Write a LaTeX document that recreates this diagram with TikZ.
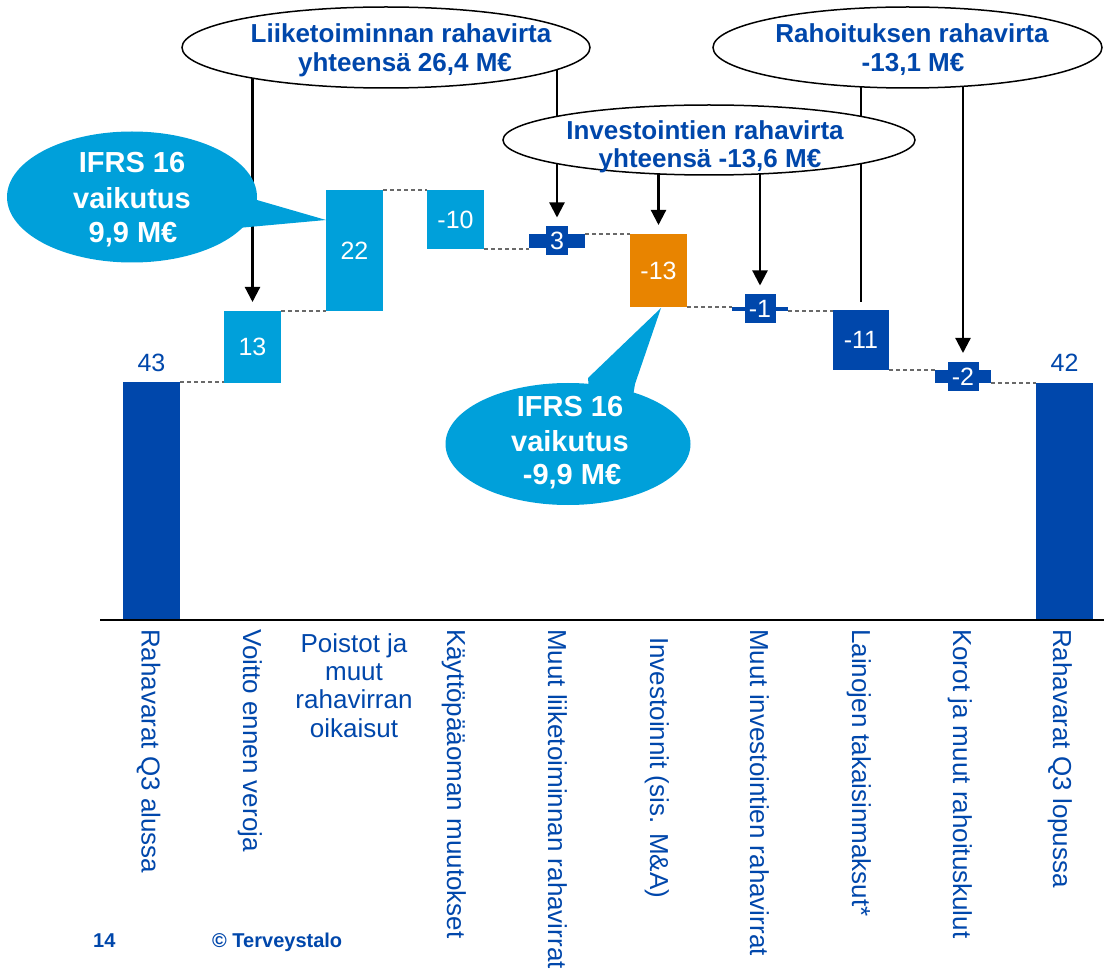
\documentclass[tikz,border=0pt]{standalone}
\usepackage{fontspec}
\setmainfont{Liberation Sans}
\usetikzlibrary{arrows.meta,shapes.geometric}
\definecolor{tdark}{RGB}{0,71,171}
\definecolor{tlight}{RGB}{0,160,218}
\definecolor{torange}{RGB}{232,132,0}
\definecolor{tgrey}{RGB}{105,105,105}
\begin{document}
\begin{tikzpicture}[x=1pt,y=-1pt,
  barbox/.style={draw=none, inner sep=0pt, outer sep=0pt, anchor=north west, minimum width=57pt, text=white, font=\fontsize{25}{28}\selectfont},
  valbox/.style={fill=tdark, inner sep=0pt, outer sep=0pt, minimum height=29pt, text=white, font=\fontsize{25}{28}\selectfont},
  endval/.style={text=tdark, inner sep=0pt, font=\fontsize{25}{28}\selectfont},
  guide/.style={draw=tgrey, dashed, dash pattern=on 4pt off 3pt, line width=1.2pt},
  arr/.style={draw=black, line width=2.2pt, -{Triangle[length=15pt,width=15pt]}},
  plainline/.style={draw=black, line width=2.2pt},
  cloud/.style={ellipse, draw=black, line width=1.5pt, fill=white, inner sep=0pt},
  cloudtext/.style={anchor=base, text=tdark, inner sep=0pt, font=\bfseries\fontsize{26}{29}\selectfont},
  calltext/.style={anchor=base, text=white, inner sep=0pt, font=\bfseries\fontsize{29}{35}\selectfont},
  axislabel/.style={rotate=-90, anchor=base west, text=tdark, inner sep=0pt, font=\fontsize{26}{28.3}\selectfont},
  foot/.style={anchor=base west, text=tdark, inner sep=0pt, font=\bfseries\fontsize{20}{22}\selectfont}
]
\useasboundingbox (0,0) rectangle (1104,976);
\fill[white] (0,0) rectangle (1104,976);

% bars
\node[barbox, fill=tdark, minimum height=238pt] (b1) at (123,382) {};
\node[barbox, fill=tlight, minimum height=72pt] (b2) at (224,311) {13};
\node[barbox, fill=tlight, minimum height=121pt] (b3) at (326,190) {22};
\node[barbox, fill=tlight, minimum height=59pt] (b4) at (427,190) {-10};
\node[barbox, fill=tdark, minimum width=56pt, minimum height=14pt] (b5) at (529,234) {};
\node[barbox, fill=torange, minimum height=73pt] (b6) at (630,234) {-13};
\node[barbox, fill=tdark, minimum width=56pt, minimum height=4pt] (b7) at (732,307) {};
\node[barbox, fill=tdark, minimum width=56pt, minimum height=60pt] (b8) at (833,310) {-11};
\node[barbox, fill=tdark, minimum width=56pt, minimum height=13pt] (b9) at (935,370) {};
\node[barbox, fill=tdark, minimum height=237pt] (b10) at (1036,383) {};

\node[valbox, minimum width=22pt] (l5) at (b5.center) {3};
\node[valbox, minimum width=31pt] (l7) at (b7.center) {-1};
\node[valbox, minimum width=31pt] (l9) at (b9.center) {-2};

\node[endval] (v1) at (151.5,362.5) {43};
\node[endval] (v10) at (1064.5,362.5) {42};

% dashed guides
\draw[guide] (b1.north east) -- (b1.north east -| b2.west);
\draw[guide] (b2.north east) -- (b2.north east -| b3.west);
\draw[guide] (b3.north east) -- (b3.north east -| b4.west);
\draw[guide] (b4.south east) -- (b4.south east -| b5.west);
\draw[guide] (b5.north east) -- (b5.north east -| b6.west);
\draw[guide] (b6.south east) -- (b6.south east -| b7.west);
\draw[guide] (b7.south east) -- (b7.south east -| b8.west);
\draw[guide] (b8.south east) -- (b8.south east -| b9.west);
\draw[guide] (b9.south east) -- (b9.south east -| b10.west);

% ellipse positions
\coordinate (e1c) at (386,47.5);
\coordinate (e2c) at (907.5,47.5);
\coordinate (e3c) at (709,140);

% arrows (behind ellipses)
\draw[arr, shorten >=9pt] (e1c -| b2.center) -- (b2.north);
\draw[arr, shorten >=9pt] (e1c -| b5.center) -- (l5.north);
\draw[arr, shorten >=9pt] (e3c -| b6.center) -- (b6.north);
\draw[arr, shorten >=9pt] (e3c -| b7.center) -- (l7.north);
\draw[plainline, shorten >=8pt] (e2c -| b8.center) -- (b8.north);
\draw[arr, shorten >=9pt] (e2c -| b9.center) -- (l9.north);

% ellipses
\node[cloud, minimum width=408pt, minimum height=81pt] (e1) at (e1c) {};
\node[cloud, minimum width=389pt, minimum height=81pt] (e2) at (e2c) {};
\node[cloud, minimum width=412pt, minimum height=70pt] (e3) at (e3c) {};

\node[cloudtext] (t1a) at (401,43) {Liiketoiminnan rahavirta};
\node[cloudtext] (t1b) at (405,72) {yhteensä 26,4 M€};
\node[cloudtext] (t2a) at (912,43) {Rahoituksen rahavirta};
\node[cloudtext] (t2b) at (913,72) {-13,1 M€};
\node[cloudtext] (t3a) at (705,140) {Investointien rahavirta};
\node[cloudtext] (t3b) at (710,168) {yhteensä -13,6 M€};

% callouts
\fill[tlight] (132,197) ellipse (125 and 65.5);
\fill[tlight] (326,220) -- (250,198) -- (238,228) -- cycle;
\fill[tlight] (568,444) ellipse (122.5 and 61);
\fill[tlight] (661,308) -- (588,378) -- (590,402) -- (632,402) -- (635,384) -- cycle;

\node[calltext] (c1a) at (132,173) {IFRS 16};
\node[calltext] (c1b) at (132,209) {vaikutus};
\node[calltext] (c1c) at (133,243) {9,9 M€};
\node[calltext] (c2a) at (570,417) {IFRS 16};
\node[calltext] (c2b) at (570,452) {vaikutus};
\node[calltext] (c2c) at (572,484) {-9,9 M€};

% axis
\draw[black, line width=2pt] (100,620) -- (1104,620);

% axis labels
\node[axislabel] (x1) at (141.5,629) {Rahavarat Q3 alussa};
\node[axislabel] (x2) at (243,629) {Voitto ennen veroja};
\node[anchor=base, text=tdark, inner sep=0pt, font=\fontsize{26}{28.3}\selectfont] (x3a) at (354,652) {Poistot ja};
\node[anchor=base, text=tdark, inner sep=0pt, font=\fontsize{26}{28.3}\selectfont] (x3b) at (354,680) {muut};
\node[anchor=base, text=tdark, inner sep=0pt, font=\fontsize{26}{28.3}\selectfont] (x3c) at (354,708) {rahavirran};
\node[anchor=base, text=tdark, inner sep=0pt, font=\fontsize{26}{28.3}\selectfont] (x3d) at (354,737) {oikaisut};
\node[axislabel] (x4) at (447,629) {Käyttöpääoman muutokset};
\node[axislabel] (x5) at (548,629) {Muut liiketoiminnan rahavirrat};
\node[axislabel] (x6) at (650,637) {Investoinnit (sis. M\&A)};
\node[axislabel] (x7) at (750,629) {Muut investointien rahavirrat};
\node[axislabel] (x8) at (852,629) {Lainojen takaisinmaksut*};
\node[axislabel] (x9) at (953,629) {Korot ja muut rahoituskulut};
\node[axislabel] (x10) at (1053,629) {Rahavarat Q3 lopussa};

% footer
\node[foot] (f1) at (93,947) {14};
\node[foot] (f2) at (212,947) {© Terveystalo};
\end{tikzpicture}
\end{document}
